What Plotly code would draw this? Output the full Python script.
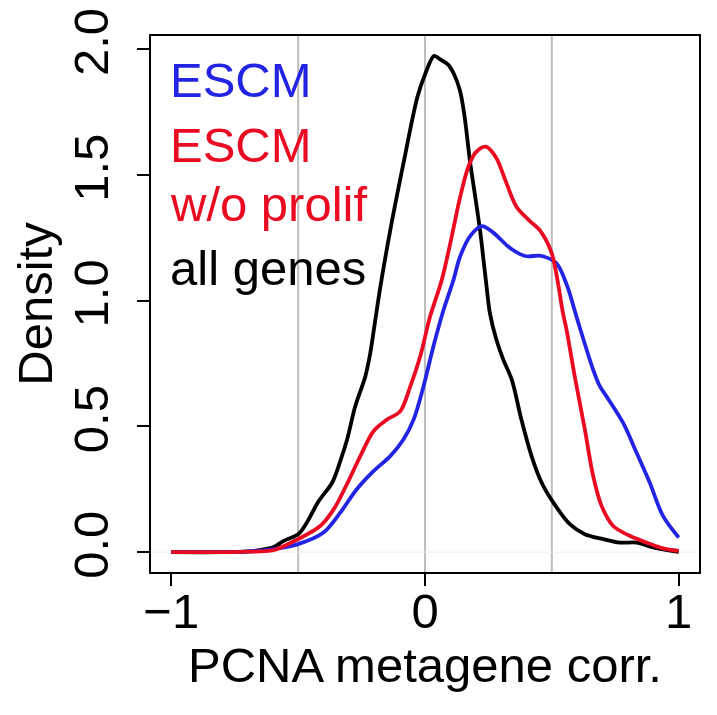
import plotly.graph_objects as go

# ---- data ----
escm_x = [-1.0, -0.8, -0.7, -0.6, -0.5, -0.4, -0.334, -0.269, -0.203, -0.137, -0.085, -0.045,
          -0.006, 0.033, 0.073, 0.112, 0.138, 0.18, 0.224, 0.27, 0.335, 0.394, 0.46, 0.518,
          0.56, 0.597, 0.663, 0.689, 0.715, 0.781, 0.834, 0.886, 0.938, 1.0]
escm_y = [0.0, 0.0, 0.002, 0.012, 0.032, 0.078, 0.157, 0.25, 0.322, 0.382, 0.448, 0.527,
          0.659, 0.818, 0.963, 1.082, 1.175, 1.26, 1.297, 1.27, 1.21, 1.178, 1.178, 1.149,
          1.06, 0.937, 0.725, 0.66, 0.62, 0.514, 0.395, 0.276, 0.144, 0.058]

noprolif_x = [-1.0, -0.8, -0.7, -0.597, -0.5, -0.413, -0.36, -0.308, -0.255, -0.203, -0.15, -0.098,
              -0.058, -0.019, 0.02, 0.066, 0.1, 0.138, 0.17, 0.2, 0.24, 0.28, 0.32, 0.361, 0.41,
              0.453, 0.499, 0.544, 0.558, 0.59, 0.63, 0.663, 0.696, 0.742, 0.807, 0.873, 0.938, 1.0]
noprolif_y = [0.0, 0.0, 0.002, 0.008, 0.052, 0.104, 0.17, 0.27, 0.382, 0.481, 0.527, 0.56,
              0.659, 0.778, 0.937, 1.082, 1.23, 1.41, 1.53, 1.59, 1.613, 1.57, 1.47, 1.373, 1.32,
              1.28, 1.19, 0.95, 0.884, 0.70, 0.488, 0.302, 0.184, 0.104, 0.065, 0.038, 0.015, 0.005]

all_x = [-1.0, -0.8, -0.7, -0.65, -0.596, -0.557, -0.5, -0.465, -0.419, -0.366, -0.334, -0.307,
         -0.275, -0.235, -0.216, -0.196, -0.176, -0.137, -0.085, -0.03, 0.0, 0.036, 0.06, 0.09,
         0.115, 0.138, 0.155, 0.178, 0.2, 0.217, 0.24, 0.256, 0.28, 0.309, 0.342, 0.38, 0.42,
         0.46, 0.506, 0.571, 0.63, 0.702, 0.768, 0.834, 0.9, 1.0]
all_y = [0.0, 0.0, 0.003, 0.008, 0.02, 0.045, 0.071, 0.119, 0.203, 0.276, 0.362, 0.448,
         0.58, 0.70, 0.79, 0.923, 1.055, 1.28, 1.546, 1.81, 1.90, 1.974, 1.96, 1.94,
         1.90, 1.835, 1.74, 1.55, 1.40, 1.28, 1.08, 0.95, 0.85, 0.765, 0.686, 0.527, 0.382,
         0.276, 0.197, 0.111, 0.071, 0.052, 0.038, 0.038, 0.019, 0.001]

x_ticks = [-1, 0, 1]
x_ticktext = ["\u22121", "0", "1"]
y_ticks = [0, 0.5, 1.0, 1.5, 2.0]
y_ticktext = ["0.0", "0.5", "1.0", "1.5", "2.0"]
ref_lines = [-0.5, 0, 0.5]

legend_labels = ["ESCM", "ESCM", "w/o prolif", "all genes"]

BLUE = "#2323E3"
RED = "#EA0A22"
BLACK = "#000000"
FONT = "Liberation Sans, Arial, Helvetica, sans-serif"
FS = 49

# page body has an 8px margin, so the figure is drawn 8px in from the corner
OFF = 8
W, H = 717 - OFF, 715 - OFF
box_l, box_r, box_t, box_b = 150.7 - OFF, 699 - OFF, 35.7 - OFF, 572.5 - OFF

fig = go.Figure()
for xs, ys, col in [(all_x, all_y, BLACK), (escm_x, escm_y, BLUE), (noprolif_x, noprolif_y, RED)]:
    fig.add_trace(go.Scatter(x=xs, y=ys, mode="lines",
                             line=dict(color=col, width=3.8, shape="spline", smoothing=0.9),
                             showlegend=False, hoverinfo="skip"))

shapes = []
for v in ref_lines:
    shapes.append(dict(type="line", xref="x", yref="paper", x0=v, x1=v, y0=0, y1=1,
                       line=dict(color="#BEBEBE", width=2), layer="below"))
shapes.append(dict(type="line", xref="paper", yref="y", x0=0, x1=1, y0=0, y1=0,
                   line=dict(color="#EEEEEE", width=1), layer="below"))

def ppaper(px):
    return (box_b - (px - OFF)) / (box_b - box_t)

baselines = [97, 162, 221, 285]
colors = [BLUE, RED, RED, BLACK]
annotations = []
for lab, b, c in zip(legend_labels, baselines, colors):
    annotations.append(dict(text=lab, x=-1.0, xref="x", xanchor="left", xshift=-3,
                            y=ppaper(b - 17), yref="paper", yanchor="middle",
                            showarrow=False, font=dict(family=FONT, size=FS, color=c)))

fig.update_layout(
    width=W, height=H,
    margin=dict(l=box_l, r=W - box_r, t=box_t, b=H - box_b, pad=0),
    paper_bgcolor="white", plot_bgcolor="white",
    font=dict(family=FONT, size=FS, color="black"),
    shapes=shapes, annotations=annotations,
    xaxis=dict(range=[-1.08, 1.08], tickvals=x_ticks, ticktext=x_ticktext, automargin=False,
               showgrid=False, zeroline=False, showline=True, mirror=True,
               linecolor="black", linewidth=1.5, ticks="outside", ticklen=12, tickwidth=1.5,
               tickcolor="black", tickfont=dict(size=FS), ticklabelstandoff=-17,
               ticklabeloverflow="allow",
               title=dict(text="PCNA metagene corr.", font=dict(size=FS), standoff=6)),
    yaxis=dict(range=[-0.079, 2.053], tickvals=y_ticks, ticktext=y_ticktext, tickangle=-90,
               automargin=False, ticklabeloverflow="allow",
               showgrid=False, zeroline=False, showline=True, mirror=True,
               linecolor="black", linewidth=1.5, ticks="outside", ticklen=12, tickwidth=1.5,
               tickcolor="black", tickfont=dict(size=FS), ticklabelstandoff=10,
               title=dict(text="Density", font=dict(size=FS), standoff=17)),
)

fig.write_html("out.html")
